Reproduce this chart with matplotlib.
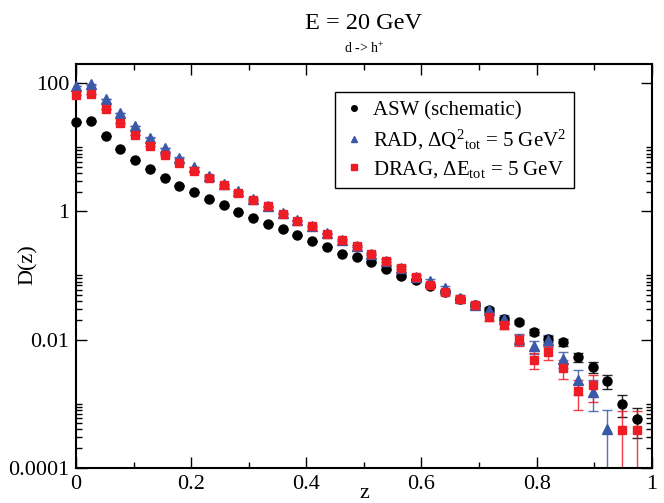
import numpy as np
import matplotlib
matplotlib.use("Agg")
import matplotlib.pyplot as plt
from matplotlib.lines import Line2D
from matplotlib.ticker import FixedLocator, FixedFormatter

plt.rcParams['font.family'] = ['Liberation Serif', 'DejaVu Serif']
plt.rcParams['mathtext.fontset'] = 'custom'
plt.rcParams['mathtext.rm'] = 'Liberation Serif'
plt.rcParams['mathtext.it'] = 'Liberation Serif:italic'

# z bins
z = [0.0, 0.0256, 0.0513, 0.0769, 0.1026, 0.1282, 0.1538, 0.1795, 0.2051, 0.2308,
     0.2564, 0.2821, 0.3077, 0.3333, 0.3590, 0.3846, 0.4103, 0.4359, 0.4615, 0.4872,
     0.5128, 0.5385, 0.5641, 0.5897, 0.6154, 0.6410, 0.6667, 0.6923, 0.7179, 0.7436,
     0.7692, 0.7949, 0.8205, 0.8462, 0.8718, 0.8974, 0.9231, 0.9487, 0.9744]

# ASW (schematic)
asw = [24.5, 25.4, 15.1, 9.36, 6.30, 4.55, 3.38, 2.53, 2.00, 1.54,
       1.24, 0.984, 0.798, 0.643, 0.524, 0.422, 0.340, 0.281, 0.220, 0.193,
       0.163, 0.124, 0.0998, 0.0863, 0.0695, 0.056, 0.0435, 0.0351, 0.0292, 0.0209,
       0.0188, 0.0131, 0.0103, 0.0090, 0.00528, 0.00368, 0.00226, 0.000987, 0.000569]
asw_err = [0.058, 0.059, 0.045, 0.036, 0.029, 0.025, 0.0215, 0.0186, 0.0165, 0.0145,
           0.013, 0.0116, 0.0105, 0.0094, 0.0085, 0.0076, 0.0068, 0.0062, 0.0055, 0.0051,
           0.0047, 0.0041, 0.0037, 0.0034, 0.0031, 0.0028, 0.0024, 0.0022, 0.0020, 0.0017,
           0.0016, 0.0013, 0.0012, 0.0011, 0.00085, 0.00071, 0.00056, 0.00037, 0.00028]

# RAD, dQ^2 = 5 GeV^2
rad = [90.8, 95.8, 56.8, 33.9, 21.4, 14.2, 9.70, 6.89, 4.90, 3.60,
       2.68, 2.08, 1.58, 1.21, 0.931, 0.724, 0.589, 0.453, 0.356, 0.286,
       0.218, 0.171, 0.132, 0.0961, 0.0811, 0.064, 0.0451, 0.0344, 0.0292, 0.0211,
       0.0103, 0.0078, 0.0097, 0.00494, 0.00234, 0.00154, 0.000396, np.nan, np.nan]
rad_err = [0.19, 0.195, 0.15, 0.116, 0.092, 0.075, 0.062, 0.052, 0.044, 0.0378,
           0.0326, 0.0287, 0.025, 0.0219, 0.0192, 0.0169, 0.0153, 0.0134, 0.0119, 0.0106,
           0.0093, 0.0082, 0.0072, 0.0062, 0.0057, 0.005, 0.0042, 0.0037, 0.0034, 0.0029,
           0.0020, 0.00176, 0.00196, 0.0014, 0.00096, 0.00078, 0.000396, np.nan, np.nan]

# DRAG, dE = 5 GeV
drag = [66.3, 68.0, 39.6, 23.7, 15.5, 10.5, 7.62, 5.71, 4.27, 3.35,
        2.54, 1.96, 1.50, 1.20, 0.925, 0.719, 0.589, 0.450, 0.356, 0.286,
        0.218, 0.171, 0.132, 0.0951, 0.0721, 0.0546, 0.0431, 0.0344, 0.0225, 0.0170,
        0.00993, 0.00477, 0.00632, 0.00357, 0.00156, 0.00192, np.nan, 0.000386, 0.000386]
drag_err = [0.16, 0.162, 0.123, 0.095, 0.077, 0.0635, 0.054, 0.047, 0.0405, 0.036,
            0.031, 0.0274, 0.024, 0.0215, 0.0189, 0.0166, 0.015, 0.0132, 0.0117, 0.0105,
            0.0092, 0.0081, 0.0071, 0.006, 0.0053, 0.0046, 0.0041, 0.00364, 0.00294, 0.00255,
            0.00195, 0.00135, 0.00156, 0.00117, 0.00077, 0.00086, np.nan, 0.000386, 0.000386]

black = '#000000'
blue = '#3c58a8'
red = '#ee1c25'

fig = plt.figure(figsize=(6.64, 5.03), dpi=100)
ax = fig.add_axes([0.1145, 0.0702, 0.867, 0.8026])

series = [
    (asw, asw_err, black, 'o', 6.5),
    (rad, rad_err, blue, '^', 7.0),
    (drag, drag_err, red, 's', 6.0),
]
for vals, errs, col, mk, ms in series:
    ax.errorbar(z, vals, yerr=errs, fmt='none', ecolor=col, elinewidth=1.0,
                capsize=3.6, capthick=1.0, alpha=0.85)
    ax.plot(z, vals, ls='none', marker=mk, ms=ms, color=col, mec=col,
            clip_on=False, zorder=3)

ax.set_yscale('log')
ax.set_xlim(0, 1)
ax.set_ylim(1e-4, 200)

ax.xaxis.set_major_locator(FixedLocator([0, 0.2, 0.4, 0.6, 0.8, 1.0]))
ax.xaxis.set_major_formatter(FixedFormatter(['0', '0.2', '0.4', '0.6', '0.8', '1']))
ax.xaxis.set_minor_locator(FixedLocator([0.1, 0.3, 0.5, 0.7, 0.9]))
ax.yaxis.set_major_locator(FixedLocator([1e-4, 1e-2, 1, 100]))
ax.yaxis.set_major_formatter(FixedFormatter(['0.0001', '0.01', '1', '100']))
minor_y = [m * 10.0 ** k for k in (-4, -2, 0) for m in range(2, 11)]
ax.yaxis.set_minor_locator(FixedLocator(minor_y))
ax.yaxis.set_minor_formatter(FixedFormatter([''] * len(minor_y)))

ax.tick_params(which='both', direction='in', top=True, right=True, width=1.0)
ax.tick_params(which='major', length=8, labelsize=16)
ax.tick_params(axis='x', which='major', pad=5)
ax.tick_params(axis='y', which='major', pad=5)
ax.tick_params(which='minor', length=4.5)
for sp in ax.spines.values():
    sp.set_linewidth(1.5)

fig.text(0.548, 0.942, 'E = 20 GeV', ha='center', va='baseline', fontsize=17.5)
fig.text(0.548, 0.895, r'd -> h$^{+}$', ha='center', va='baseline', fontsize=10)
fig.text(0.548, 0.0, 'z', ha='center', va='bottom', fontsize=16)
fig.text(0.042, 0.473, 'D(z)', rotation=90, ha='center', va='center', fontsize=16)

handles = [
    Line2D([], [], ls='none', marker='o', ms=4, color=black),
    Line2D([], [], ls='none', marker='^', ms=4.5, color=blue),
    Line2D([], [], ls='none', marker='s', ms=4, color=red),
]
labels = [
    'ASW (schematic)',
    r'RAD, ΔQ$^{2}{}_{\mathrm{tot}}$ = 5 GeV$^{2}$',
    r'DRAG, ΔE$_{\mathrm{tot}}$ = 5 GeV',
]
leg = ax.legend(handles, labels, loc='upper left', bbox_to_anchor=(0.45, 0.93),
                borderaxespad=0, fontsize=15, frameon=True, fancybox=False,
                framealpha=1, edgecolor='black', borderpad=0.4,
                handlelength=1.0, handletextpad=0.42, labelspacing=0.35)
leg.get_frame().set_linewidth(1.0)

fig.savefig('out.png', dpi=100)
